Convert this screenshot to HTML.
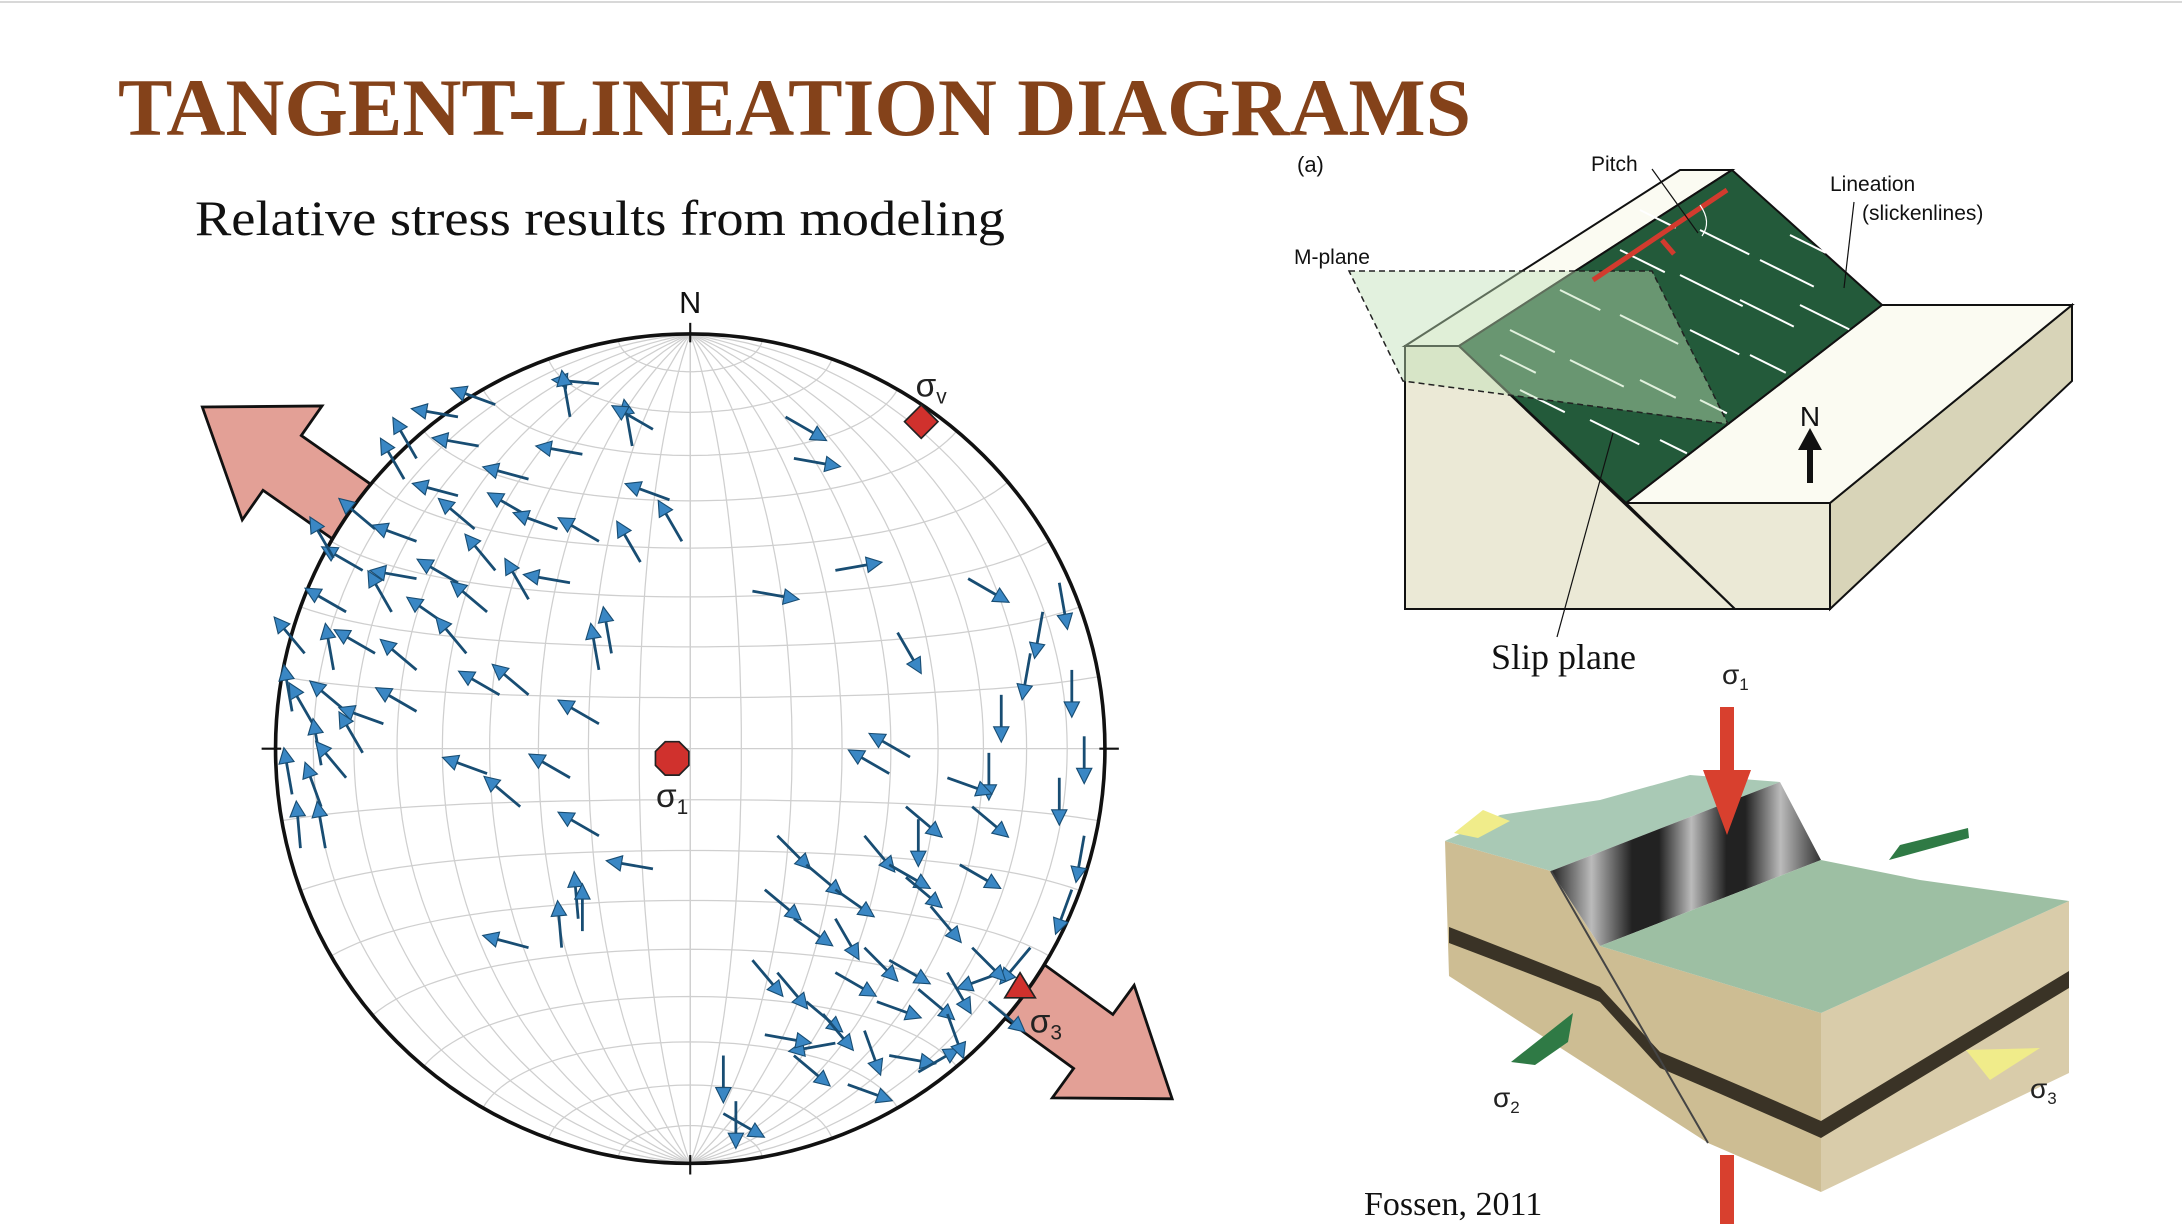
<!DOCTYPE html>
<html><head><meta charset="utf-8"><style>
html,body{margin:0;padding:0;background:#fff;}
svg{display:block;}
</style></head><body>
<svg id="root" width="2182" height="1224" viewBox="0 0 2182 1224" xmlns="http://www.w3.org/2000/svg" font-family="Liberation Sans, sans-serif">
<rect x="0" y="0" width="2182" height="1224" fill="#fff"/>
<line x1="0" y1="2" x2="2182" y2="2" stroke="#d8d8d8" stroke-width="2"/>
<text x="118" y="135" font-family="Liberation Serif, serif" font-weight="bold" font-size="82" fill="#84421a" textLength="1353" lengthAdjust="spacingAndGlyphs">TANGENT-LINEATION DIAGRAMS</text>
<text x="195" y="235" font-family="Liberation Serif, serif" font-size="50" fill="#111" textLength="810" lengthAdjust="spacingAndGlyphs">Relative stress results from modeling</text>

<g id="net" transform="scale(1.3916)">
  <g id="bigArrows"></g>
  <circle cx="496" cy="538" r="298" fill="#fff"/>
  <g id="grid"></g>
  <circle cx="496" cy="538" r="298" fill="none" stroke="#111" stroke-width="2.6"/>
  <g stroke="#111" stroke-width="1.5">
    <line x1="496" y1="232" x2="496" y2="246"/><line x1="496" y1="830" x2="496" y2="844"/>
    <line x1="188" y1="538" x2="202" y2="538"/><line x1="790" y1="538" x2="804" y2="538"/>
  </g>
  <text x="496" y="225" font-size="22" text-anchor="middle" fill="#111">N</text>
  <g id="smallArrows"></g>
  <polygon points="478,533 488,533 495,540 495,550 488,557 478,557 471,550 471,540" fill="#d0312d" stroke="#222" stroke-width="1.2"/>
  <text x="483" y="580" font-size="24" text-anchor="middle" fill="#222">σ<tspan font-size="15" dy="5">1</tspan></text>
  <polygon points="662,291 674,303 662,315 650,303" fill="#d0312d" stroke="#222" stroke-width="1.2"/>
  <text x="658" y="285" font-size="24" fill="#222">σ<tspan font-size="15" dy="5">v</tspan></text>
  <polygon points="733,699 744,717 722,717" fill="#d0312d" stroke="#222" stroke-width="1.2"/>
  <text x="740" y="742" font-size="24" fill="#222">σ<tspan font-size="15" dy="5">3</tspan></text>
</g>

<g id="diagramA">
  <polygon points="1405,346 1459,346 1735,609 1405,609" fill="#ebe9d6" stroke="#111" stroke-width="2"/>
  <polygon points="1626,503 1830,503 1830,609 1735,609" fill="#ebe9d6" stroke="#111" stroke-width="2"/>
  <polygon points="1830,503 2072,305 2072,381 1830,609" fill="#d8d4b8" stroke="#111" stroke-width="2"/>
  <polygon points="1626,503 1830,503 2072,305 1882,305" fill="#fbfbf2" stroke="#111" stroke-width="2"/>
  <polygon points="1405,346 1680,170 1732,170 1459,346" fill="#fbfbf2" stroke="#111" stroke-width="2"/>
  <polygon points="1459,346 1732,170 1882,305 1626,503" fill="#235a3a" stroke="#111" stroke-width="2"/>
  <g id="lineations" stroke="#fff" stroke-width="2"></g>
  <polygon points="1349,271 1652,271 1728,424 1403,381" fill="#bfe0b5" fill-opacity="0.45" stroke="#222" stroke-width="1.5" stroke-dasharray="6,4"/>
  <line x1="1593" y1="280" x2="1727" y2="190" stroke="#d23b2e" stroke-width="5"/>
  <line x1="1662" y1="240" x2="1674" y2="254" stroke="#d23b2e" stroke-width="5"/>
  <path d="M1700,205 Q1712,222 1702,236" fill="none" stroke="#fff" stroke-width="1.2"/>
  <line x1="1652" y1="169" x2="1698" y2="233" stroke="#111" stroke-width="1.2"/>
  <line x1="1854" y1="202" x2="1844" y2="288" stroke="#111" stroke-width="1.2"/>
  <line x1="1557" y1="637" x2="1613" y2="433" stroke="#111" stroke-width="1.2"/>
  <line x1="1810" y1="483" x2="1810" y2="445" stroke="#111" stroke-width="6"/>
  <polygon points="1810,428 1822,450 1798,450" fill="#111"/>
  <text x="1810" y="426" font-size="28" text-anchor="middle" fill="#111">N</text>
  <text x="1297" y="172" font-size="22" fill="#111">(a)</text>
  <text x="1591" y="171" font-size="21" fill="#111">Pitch</text>
  <text x="1830" y="191" font-size="21" fill="#111">Lineation</text>
  <text x="1862" y="220" font-size="21" fill="#111">(slickenlines)</text>
  <text x="1294" y="264" font-size="21" fill="#111">M-plane</text>
  <text x="1491" y="669" font-family="Liberation Serif, serif" font-size="36" fill="#111">Slip plane</text>
</g>

<g id="diagramB">
  <defs>
    <linearGradient id="cyl" x1="0" y1="0" x2="1" y2="0">
      <stop offset="0" stop-color="#222"/><stop offset="0.15" stop-color="#bbb"/><stop offset="0.3" stop-color="#222"/>
      <stop offset="0.4" stop-color="#222"/><stop offset="0.52" stop-color="#bbb"/><stop offset="0.65" stop-color="#222"/>
      <stop offset="0.72" stop-color="#222"/><stop offset="0.85" stop-color="#bbb"/><stop offset="1" stop-color="#333"/>
    </linearGradient>
  </defs>
  <polygon points="1445,841 1551,871 1600,946 1821,1013 1821,1192 1708,1143 1449,976" fill="#cdbd93"/>
  <polygon points="1821,1013 2069,901 2069,1073 1821,1192" fill="#d9ccaa"/>
  <path d="M1449,927 Q1560,970 1600,987 L1660,1052 Q1740,1085 1821,1121 L2069,971 L2069,988 L1821,1138 Q1740,1102 1660,1068 L1600,1002 Q1560,985 1449,943 Z" fill="#3a3326"/>
  <polygon points="1445,841 1500,815 1600,800 1690,775 1780,782 1551,871" fill="#a9c9b5"/>
  <polygon points="1551,871 1780,782 1821,860 1600,946" fill="url(#cyl)"/>
  <polygon points="1600,946 1821,860 1920,880 2069,901 1821,1013" fill="#9dbfa3"/>
  <line x1="1551" y1="871" x2="1708" y2="1143" stroke="#444" stroke-width="2"/>
  <rect x="1720" y="707" width="14" height="70" fill="#d8402e"/>
  <polygon points="1703,770 1751,770 1727,835" fill="#d8402e"/>
  <rect x="1720" y="1155" width="14" height="70" fill="#d8402e"/>
  <polygon points="1511,1062 1573,1013 1568,1042 1535,1065" fill="#2f7a45"/>
  <polygon points="1969,838 1889,860 1900,845 1968,828" fill="#2f7a45"/>
  <polygon points="1454,833 1483,810 1510,821 1478,838" fill="#f0ec8a"/>
  <polygon points="2040,1048 1966,1050 1990,1080" fill="#f0ec8a"/>
  <text x="1722" y="684" font-size="28" fill="#222">σ<tspan font-size="17" dy="6">1</tspan></text>
  <text x="1493" y="1107" font-size="28" fill="#222">σ<tspan font-size="17" dy="6">2</tspan></text>
  <text x="2030" y="1098" font-size="28" fill="#222">σ<tspan font-size="17" dy="6">3</tspan></text>
  <text x="1364" y="1215" font-family="Liberation Serif, serif" font-size="34" fill="#111">Fossen, 2011</text>
</g>
</svg>
<script>
// slickenline data (east/north in % of radius; direction angle in degrees screen)
const arrowEast = [-22,-47,-56,-66,-51,-39,-26,-14,-29,-39,-56,-69,-76,-66,-52,-79,-86,-66,-56,-47,-32,-22,-12,-2,-5,-83,-72,-59,-49,-39,-29,-22,-19,-93,-86,-76,-66,-54,-46,-96,-91,-83,-74,-66,-89,-79,-96,-89,-83,-94,-88,-39,-22,-49,-29,-41,-22,-9,-27,-31,-26,-39,
 -9,23,25,35,15,50,48,67,
 21,28,35,42,48,55,52,58,65,68,72,75,82,85,89,92,95,89,95,92,82,75,68,62,55,48,42,35,28,21,15,18,25,35,45,35,25,18,8,11,8,38,48,55,62,72,42,32,52,62,53];
const arrowNorth = [88,83,80,70,73,65,71,73,80,56,61,65,53,50,53,43,46,41,40,43,53,50,45,50,60,33,33,30,33,36,40,19,23,23,19,23,19,23,13,9,6,9,6,9,-4,-1,-11,-14,-7,-24,-24,13,6,-6,-7,-14,-21,-29,-41,-48,-44,-48,
 77,80,70,43,38,28,-6,41,
 -21,-28,-34,-21,-28,-17,-31,-38,-28,-14,-1,13,23,33,40,19,3,-7,-21,-34,-48,-54,-48,-54,-58,-51,-48,-54,-61,-54,-51,-34,-41,-41,-61,-71,-74,-69,-74,-85,-88,-81,-74,-78,-64,-61,-68,-64,-14,-7,-2];
const arrowAngle = [-175,-160,-170,-120,-170,-165,-170,-100,-100,-150,-165,-120,-140,-160,-140,-150,-120,-170,-150,-130,-160,-150,-120,-120,-160,-150,-120,-145,-140,-120,-170,-100,-100,-130,-100,-150,-140,-130,-150,-100,-120,-140,-160,-150,-100,-120,-100,-110,-130,-95,-100,-140,-150,-160,-150,-140,-150,-170,-95,-95,-90,-165,
 -150,30,10,-10,10,60,-150,30,
 45,40,35,50,30,90,40,50,30,40,90,90,100,100,80,90,90,90,100,110,130,160,45,60,40,30,45,30,40,50,50,40,35,60,20,170,40,10,90,90,30,20,10,-30,70,40,70,50,40,20,-150];
// principal stress arrow directions (degrees screen)
const stressDirs = [215, 36];

const NS = 'http://www.w3.org/2000/svg';
const CX = 496, CY = 538, R = 298;
function px(e){ return CX + e/100*R; }
function py(n){ return CY - n/100*R; }
function mk(tag, attrs, parent){ const el = document.createElementNS(NS, tag); for (const k in attrs) el.setAttribute(k, attrs[k]); parent.appendChild(el); return el; }

// Schmidt equal-area grid
const grid = document.getElementById('grid');
function proj(lat, lon){ const f=Math.PI/180; const c=Math.cos(lat*f)*Math.cos(lon*f); const k=Math.sqrt(2/(1+c)); return [CX + R*k*Math.cos(lat*f)*Math.sin(lon*f)/Math.SQRT2, CY - R*k*Math.sin(lat*f)/Math.SQRT2]; }
for (let lon=-80; lon<=80; lon+=10){ let d=''; for (let lat=-90; lat<=90; lat+=2){ const p=proj(lat,lon); d+=(d?'L':'M')+p[0].toFixed(1)+','+p[1].toFixed(1);} const el=mk('path',{d:d,fill:'none',stroke:'#cfcfcf','stroke-width':0.9},grid);
 
  }
mk('line',{x1:CX,y1:CY-R,x2:CX,y2:CY+R,stroke:'#cfcfcf','stroke-width':0.9},grid);
for (let lat=-80; lat<=80; lat+=10){ let d=''; for (let lon=-90; lon<=90; lon+=3){ const p=proj(lat,lon); d+=(d?'L':'M')+p[0].toFixed(1)+','+p[1].toFixed(1);} const el=mk('path',{d:d,fill:'none',stroke:'#cfcfcf','stroke-width':0.9},grid);
 
  }

// big stress arrows
const ba = document.getElementById('bigArrows');
stressDirs.forEach((deg,i)=>{
  const a=deg*Math.PI/180, dx=Math.cos(a), dy=Math.sin(a), nx=-dy, ny=dx;
  const tr=285, tip=428, hl=70, w=24, hw=50;
  const T=[CX+dx*tr, CY+dy*tr], P=[CX+dx*tip, CY+dy*tip], B=[P[0]-dx*hl, P[1]-dy*hl];
  const pts=[[T[0]+nx*w,T[1]+ny*w],[B[0]+nx*w,B[1]+ny*w],[B[0]+nx*hw,B[1]+ny*hw],P,[B[0]-nx*hw,B[1]-ny*hw],[B[0]-nx*w,B[1]-ny*w],[T[0]-nx*w,T[1]-ny*w]];
  const el=mk('polygon',{points:pts.map(p=>p[0].toFixed(1)+','+p[1].toFixed(1)).join(' '),fill:'#e3a096',stroke:'#111','stroke-width':2},ba);
  
  
});

// small slip arrows
const sa = document.getElementById('smallArrows');
for (let i=0;i<arrowEast.length;i++){
  const x=px(arrowEast[i]), y=py(arrowNorth[i]); const a=arrowAngle[i]*Math.PI/180;
  const L=34, hl=11, hw=5.5, dx=Math.cos(a), dy=Math.sin(a);
  const hx=x+dx*L, hy=y+dy*L, bx=hx-dx*hl, by=hy-dy*hl;
  const g=mk('g',{},sa);
  
  
  mk('line',{x1:x.toFixed(1),y1:y.toFixed(1),x2:bx.toFixed(1),y2:by.toFixed(1),stroke:'#184d73','stroke-width':2},g);
  mk('polygon',{points:[hx,hy,bx-dy*hw,by+dx*hw,bx+dy*hw,by-dx*hw].map(v=>v.toFixed(1)).join(','),fill:'#3a87c4',stroke:'#184d73','stroke-width':0.8},g);
}

// lineation dashes on slip plane
const lin = document.getElementById('lineations');
const linStart = [[1640,210],[1700,230],[1760,260],[1790,235],[1620,250],[1680,275],[1740,300],[1800,305],[1560,290],[1620,315],[1690,330],[1750,355],[1510,330],[1570,360],[1640,380],[1700,400],[1520,390],[1590,420],[1660,440],[1500,355]];
const linLen = [40,55,60,40,50,70,60,55,45,65,55,40,50,60,40,30,50,55,30,40];
linStart.forEach((p,i)=>{ const dx=Math.cos(0.46), dy=Math.sin(0.46);
  mk('line',{x1:p[0],y1:p[1],x2:(p[0]+dx*linLen[i]).toFixed(1),y2:(p[1]+dy*linLen[i]).toFixed(1)},lin); });
</script>
</body></html>
